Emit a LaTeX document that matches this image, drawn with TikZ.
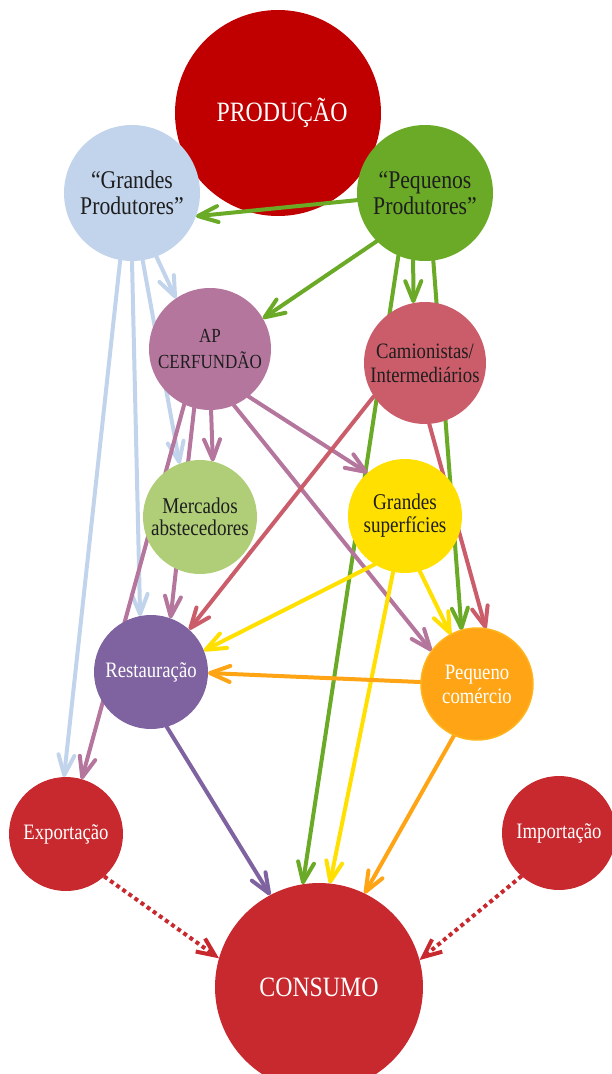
\documentclass[tikz,border=0pt]{standalone}
\usepackage{fontspec}
\setmainfont{Liberation Serif}[FakeStretch=0.85]
\usetikzlibrary{arrows.meta}
\pgfdeclarelayer{back}
\pgfdeclarelayer{edges}
\pgfsetlayers{back,edges,main}
\definecolor{prodc}{HTML}{C00000}
\definecolor{bluec}{HTML}{C2D4EC}
\definecolor{greenc}{HTML}{6AAA26}
\definecolor{mauvec}{HTML}{B5769E}
\definecolor{camc}{HTML}{CB5D6B}
\definecolor{mercc}{HTML}{B0CE78}
\definecolor{yellowc}{HTML}{FFE000}
\definecolor{purplec}{HTML}{7F63A0}
\definecolor{orangec}{HTML}{FFA515}
\definecolor{orangeb}{HTML}{FFB41E}
\definecolor{redc}{HTML}{C8292E}
\definecolor{txtdark}{HTML}{1E1E1E}
\tikzset{
  circ/.style={circle, inner sep=0pt, outer sep=0pt, align=center, text=txtdark},
  big/.style={font=\fontsize{28}{30}\selectfont},
  mid/.style={font=\fontsize{25.5}{26}\selectfont},
  small/.style={font=\fontsize{22}{24}\selectfont},
  conn/.style={line width=4pt, line cap=round, -{Straight Barb[length=20pt,width=16pt,round]}},
  dotconn/.style={line width=4pt, line cap=butt, dash pattern=on 4pt off 3.5pt, -{Straight Barb[length=18pt,width=16pt]}}
}
\begin{document}
\begin{tikzpicture}[x=1pt,y=1pt]
\useasboundingbox (0,0) rectangle (612,-1074);
\begin{pgfonlayer}{back}
\node[circ, fill=prodc, minimum size=206pt, text=white, big] (prod) at (278,-113) {\hspace*{8pt}PRODUÇÃO};
\end{pgfonlayer}
\node[circ, fill=bluec, minimum size=136pt, mid] (gp) at (132,-193) {“Grandes\\Produtores”};
\node[circ, fill=greenc, minimum size=136pt, mid] (pp) at (425,-193) {“Pequenos\\Produtores”};
\node[circ, fill=mauvec, minimum size=122pt, font=\fontsize{20}{26}\selectfont] (ap) at (210,-349) {AP\\CERFUNDÃO};
\node[circ, fill=camc, minimum size=122pt, small] (cam) at (425,-363) {Camionistas/\\Intermediários};
\node[circ, fill=mercc, minimum size=114pt, font=\fontsize{22.5}{21.5}\selectfont] (merc) at (200,-517) {Mercados\\abstecedores};
\node[circ, fill=yellowc, minimum size=114pt, font=\fontsize{22.5}{23}\selectfont] (gs) at (405,-516) {Grandes\\superfícies};
\node[circ, fill=purplec, minimum size=114pt, small, text=white] (rest) at (151,-672) {Restauração};
\node[circ, fill=orangec, draw=orangeb, line width=1.5pt, minimum size=112pt, small, text=white] (pc) at (477,-684) {Pequeno\\comércio};
\node[circ, fill=redc, minimum size=114pt, small, text=white] (exp) at (66,-834) {Exportação};
\node[circ, fill=redc, minimum size=114pt, small, text=white] (imp) at (559,-833) {Importação};
\node[circ, fill=redc, minimum size=208pt, big, text=white] (cons) at (319,-987) {CONSUMO};
\begin{pgfonlayer}{edges}
% Pequenos Produtores
\draw[conn, greenc] (pp.186) -- (gp.340);
\draw[conn, greenc] (pp.225.6) -- (ap.30.8);
\draw[conn, greenc] (pp.260.7) -- (cam.101);
\draw[conn, greenc] (pp.247.4) -- (cons.99.3);
\draw[conn, greenc] (pp.277.7) -- (pc.106.3);
% Grandes Produtores
\draw[conn, bluec] (gp.260.8) -- (exp.92);
\draw[conn, bluec] (gp.270.8) -- (rest.101.5);
\draw[conn, bluec] (gp.279) -- (merc.111.1);
\draw[conn, bluec] (gp.291.8) -- (ap.124.7);
% AP CERFUNDAO
\draw[conn, mauvec] (ap.245) -- (exp.74.3);
\draw[conn, mauvec] (ap.255.7) -- (rest.70.4);
\draw[conn, mauvec] (ap.271) -- (merc.77.2);
\draw[conn, mauvec] (ap.293.2) -- (pc.144.4);
\draw[conn, mauvec] (ap.309.8) -- (gs.131.6);
% Camionistas
\draw[conn, camc] (cam.213.2) -- (rest.48.4);
\draw[conn, camc] (cam.274.6) -- (pc.81.2);
% Grandes superficies
\draw[conn, yellowc] (gs.238.5) -- (rest.22.5);
\draw[conn, yellowc] (gs.258.1) -- (cons.84);
\draw[conn, yellowc] (gs.285) -- (pc.118.7);
% Pequeno comercio
\draw[conn, orangec] (pc.178) -- (rest.359);
\draw[conn, orangec] (pc.246.5) -- (cons.64.4);
% Restauracao
\draw[conn, purplec] (rest.286.9) -- (cons.118.5);
% Exportacao / Importacao
\draw[dotconn, redc] (exp.312.8) -- (cons.164.9);
\draw[dotconn, redc] (imp.229.1) -- (cons.15.4);
\end{pgfonlayer}
\end{tikzpicture}
\end{document}
